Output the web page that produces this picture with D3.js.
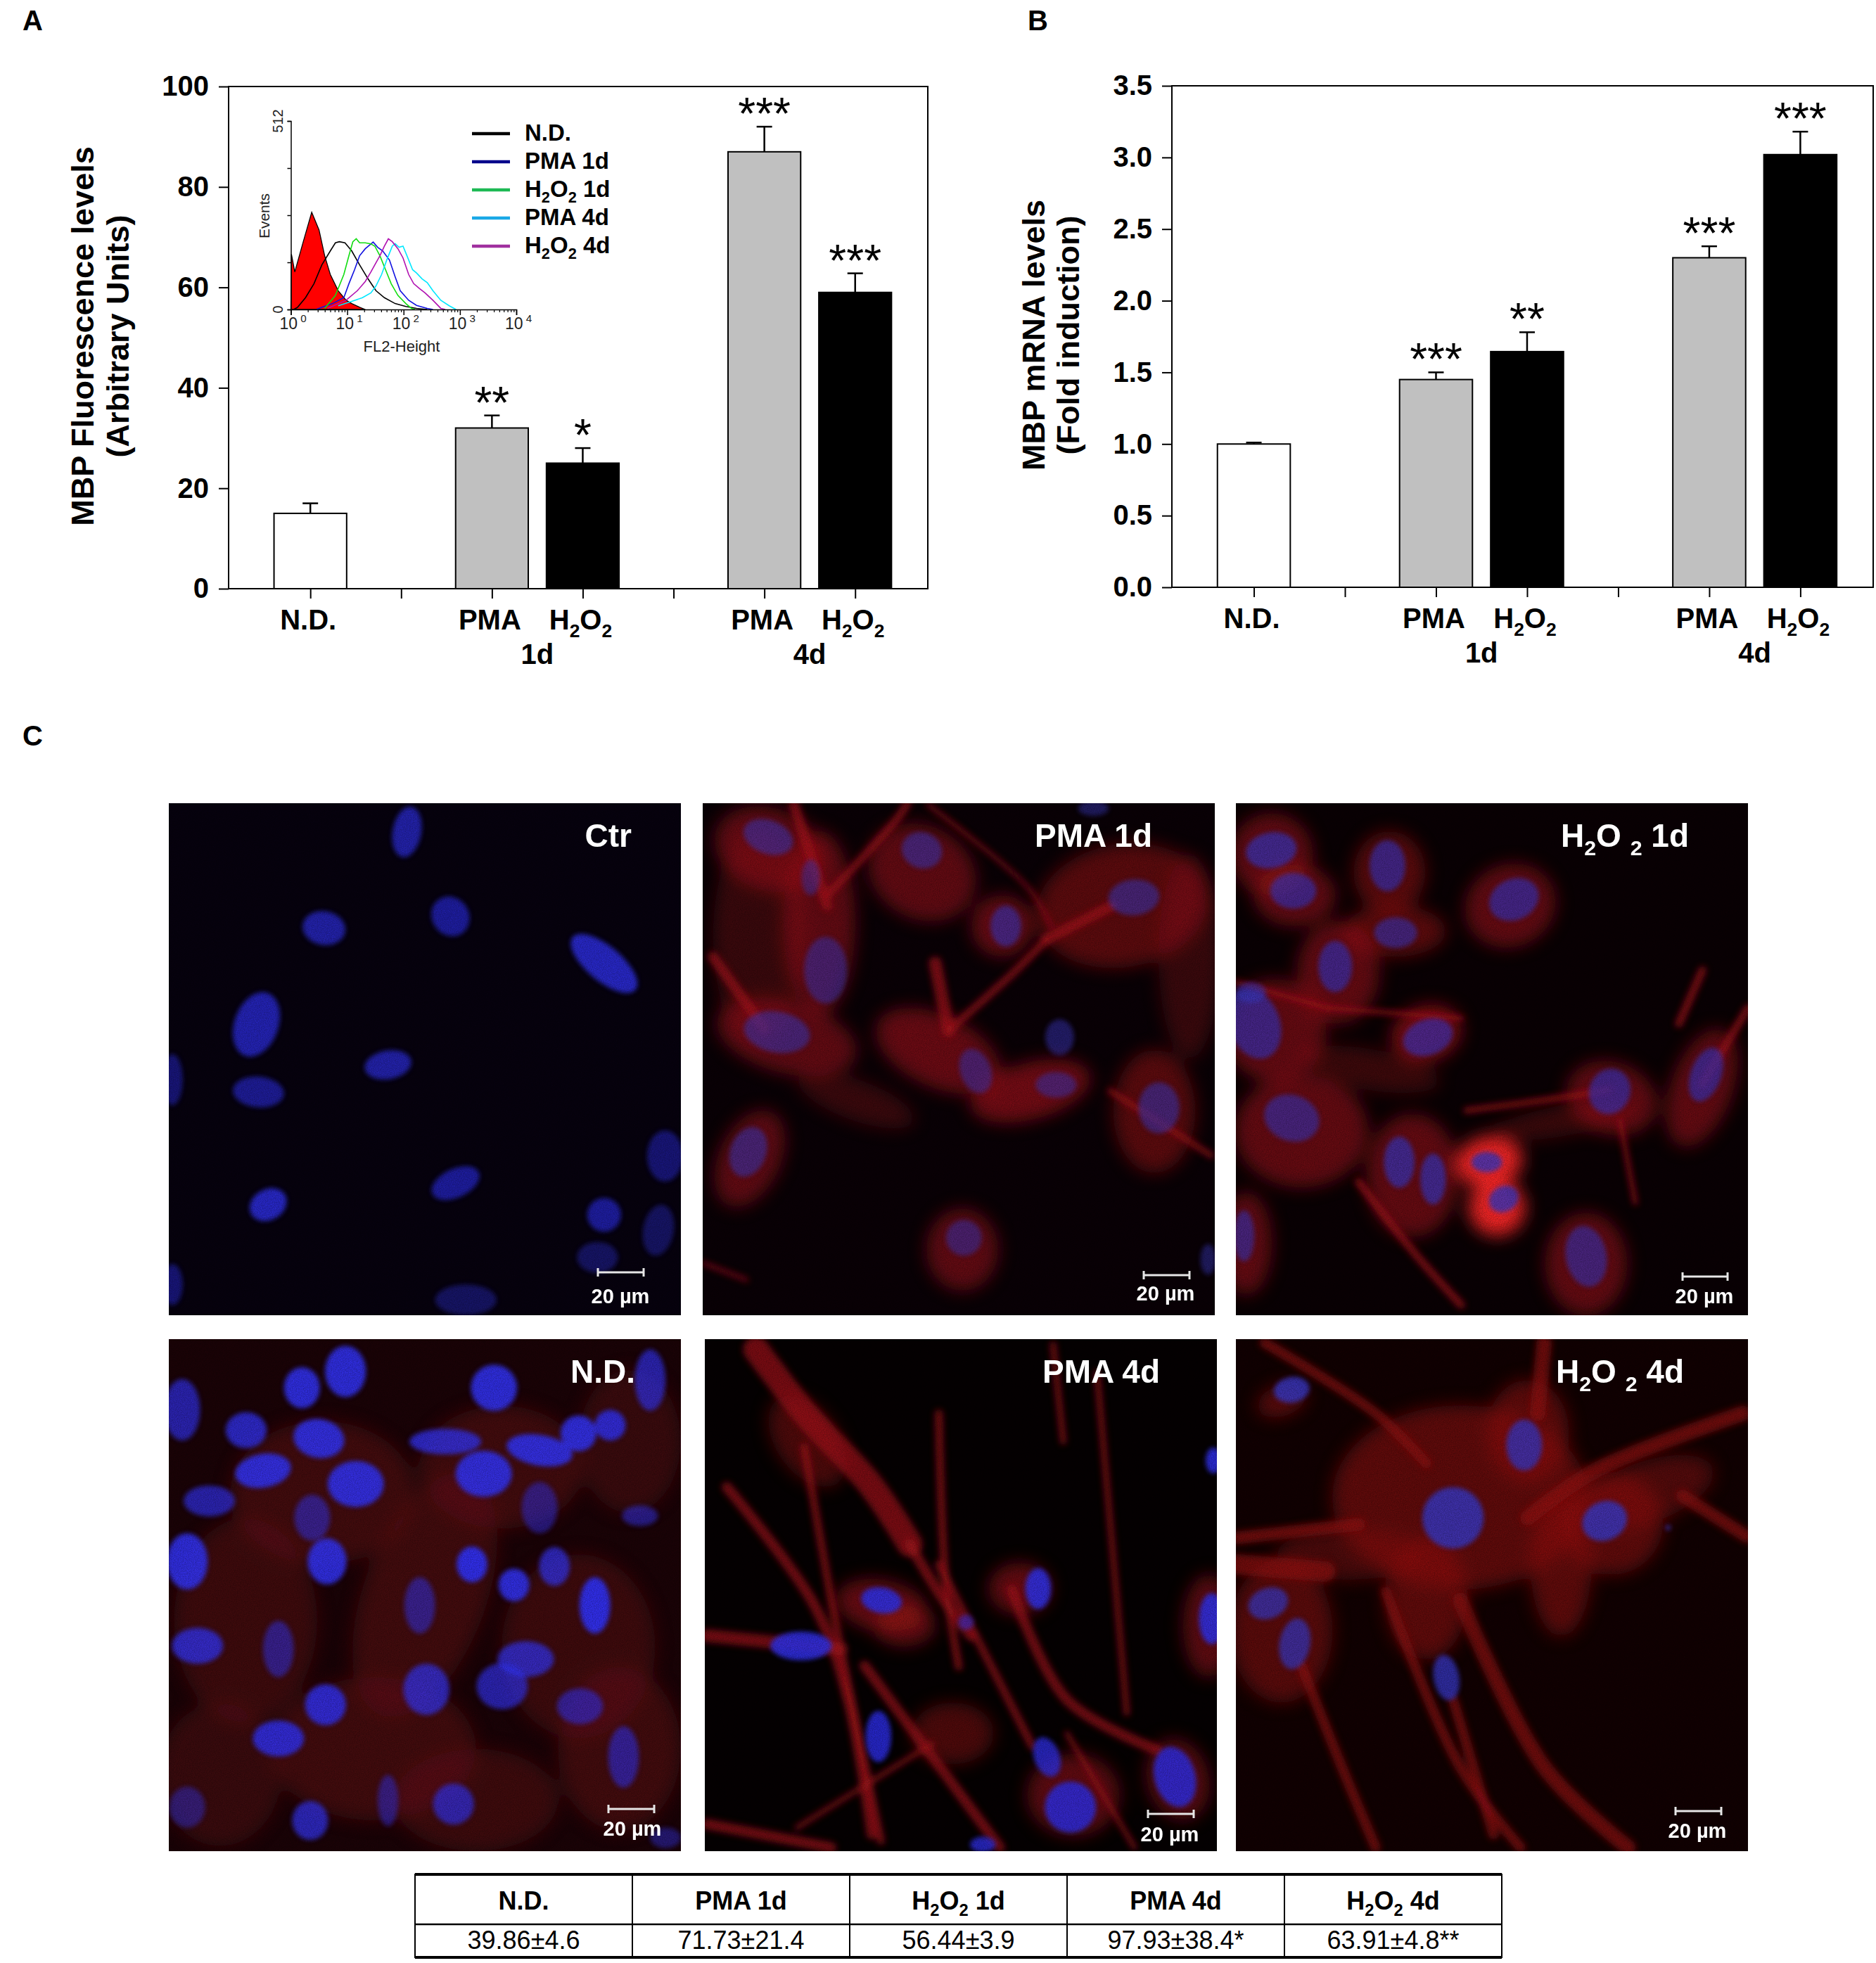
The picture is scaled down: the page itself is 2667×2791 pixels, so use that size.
<!DOCTYPE html>
<html>
<head>
<meta charset="utf-8">
<script src="https://cdn.jsdelivr.net/npm/d3@7"></script>
<style>
  body { margin: 0; background: #fff; }
</style>
</head>
<body>
<script>
// ---------- data ----------
const slots = [0, 2, 3, 5, 6];                 // x positions of the five bars (7 tick slots)
const barFills = ["#ffffff", "#c0c0c0", "#000000", "#c0c0c0", "#000000"];
const catLabels = [[["N.D.", 0]], [["PMA", 0]], [["H", 0], ["2", 1], ["O", 0], ["2", 1]], [["PMA", 0]], [["H", 0], ["2", 1], ["O", 0], ["2", 1]]];
const dayLabels = ["1d", "4d"];
const daySlots = [2.5, 5.5];

const fluoMean = [15, 32, 25, 87, 59];
const fluoErr = [2, 2.5, 3, 5, 3.8];
const fluoStars = ["", "**", "*", "***", "***"];
const fluoTicks = [0, 20, 40, 60, 80, 100];

const mrnaMean = [1.0, 1.45, 1.645, 2.30, 3.02];
const mrnaErr = [0.01, 0.05, 0.135, 0.08, 0.16];
const mrnaStars = ["", "***", "**", "***", "***"];
const mrnaTicks = [0, 0.5, 1.0, 1.5, 2.0, 2.5, 3.0, 3.5];

// flow cytometry histograms: [log10(FL2-Height), events]
const histIso = [[0, 0], [0.01, 150], [0.07, 102], [0.22, 184], [0.37, 264], [0.5, 216], [0.6, 146], [0.7, 95], [0.84, 51], [0.98, 25], [1.08, 16], [1.22, 6], [1.32, 0]];
const histND = [[0.05, 0], [0.12, 6], [0.26, 32], [0.41, 70], [0.55, 121], [0.7, 159], [0.79, 181], [0.86, 184], [0.96, 181], [1.08, 159], [1.22, 121], [1.37, 83], [1.51, 51], [1.66, 32], [1.85, 16], [2.04, 8], [2.23, 3], [2.42, 0]];
const histPMA1 = [[0.46, 1], [0.74, 16], [0.94, 32], [1.03, 70], [1.13, 108], [1.22, 146], [1.32, 165], [1.42, 178], [1.46, 183], [1.54, 169], [1.63, 159], [1.75, 134], [1.85, 89], [1.94, 51], [2.09, 25], [2.23, 11], [2.42, 3], [2.52, 0]];
const histH1 = [[0.6, 3], [0.79, 38], [0.94, 95], [1.03, 146], [1.1, 184], [1.16, 192], [1.22, 181], [1.32, 181], [1.42, 178], [1.49, 172], [1.58, 146], [1.68, 108], [1.78, 70], [1.9, 38], [2.04, 16], [2.14, 3], [2.2, 0]];
const histPMA4 = [[0.84, 10], [1.08, 22], [1.27, 32], [1.42, 45], [1.51, 64], [1.61, 95], [1.7, 134], [1.8, 172], [1.85, 179], [1.92, 169], [1.99, 172], [2.06, 146], [2.16, 108], [2.23, 99], [2.33, 83], [2.42, 73], [2.52, 51], [2.66, 25], [2.81, 10], [2.93, 0]];
const histH4 = [[0.65, 3], [0.98, 25], [1.18, 51], [1.32, 76], [1.42, 102], [1.51, 127], [1.58, 146], [1.66, 172], [1.73, 192], [1.8, 184], [1.9, 165], [1.99, 140], [2.09, 95], [2.18, 70], [2.28, 57], [2.38, 45], [2.52, 25], [2.66, 3], [2.74, 0]];
const histSeries = [histND, histPMA1, histH1, histPMA4, histH4];
const histColors = ["#000000", "#1010e0", "#10dd10", "#00e8ff", "#b010b0"];
const legendColors = ["#000000", "#00008b", "#1db954", "#1aa8e6", "#a0309f"];
const legendLabels = [[["N.D.", 0]], [["PMA 1d", 0]], [["H", 0], ["2", 1], ["O", 0], ["2", 1], [" 1d", 0]], [["PMA 4d", 0]], [["H", 0], ["2", 1], ["O", 0], ["2", 1], [" 4d", 0]]];
const histYTicks = [0, 128, 256, 384, 512];
const histDecades = [0, 1, 2, 3, 4];

// table under panel C
const tableHeads = [[["N.D.", 0]], [["PMA 1d", 0]], [["H", 0], ["2", 1], ["O", 0], ["2", 1], [" 1d", 0]], [["PMA 4d", 0]], [["H", 0], ["2", 1], ["O", 0], ["2", 1], [" 4d", 0]]];
const tableValues = ["39.86±4.6", "71.73±21.4", "56.44±3.9", "97.93±38.4*", "63.91±4.8**"];

// micrographs: nuclei / cytoplasm as [u, v, rx, ry, rotation, opacity] in % of the frame
const ctrNuclei = [[46.5, 5.6, 2.8, 5, 10, 0.8], [30.3, 24.4, 4.2, 3.3, 10, 0.8], [55, 22.1, 3.6, 4, -35, 0.75], [85, 31.3, 8, 3.4, 40, 0.95], [17.1, 43.2, 4.3, 6.5, 20, 0.85], [42.8, 51.1, 4.6, 2.8, -10, 0.8], [17.5, 56.4, 5, 3, 5, 0.7], [56, 74.2, 5, 2.8, -25, 0.75], [19.4, 78.4, 3.8, 3, -30, 0.95], [96.9, 68.9, 3.5, 5, 0, 0.55], [85, 80.4, 3.3, 3.3, 0, 0.75], [95.6, 83.4, 3, 5, 10, 0.45], [83.7, 88.7, 4, 3, 0, 0.45], [58, 97, 6, 3, 0, 0.45], [0.7, 54, 2, 5, 0, 0.55], [0.7, 94, 2, 4, 0, 0.55]];
const ctrCyto = [];
const ctrProc = [];

const pma1Nuclei = [[12.8, 6.6, 5, 3.3, 20, 0.6], [21.1, 14.5, 1.8, 3.5, 0, 0.5], [42.8, 9.2, 4, 3.5, 20, 0.6], [84.2, 18.4, 5, 3.5, -5, 0.6], [59.2, 24, 3, 4, 0, 0.65], [24, 32.6, 4.2, 6.5, 0, 0.55], [14.5, 44.7, 6.5, 4, 10, 0.6], [53.3, 52.3, 3, 4.5, -20, 0.55], [69.7, 45.7, 2.8, 3.5, 0, 0.55], [69, 55, 4, 2.5, 0, 0.55], [89.1, 59.5, 4, 5, 0, 0.6], [8.9, 68.1, 3.5, 5, 20, 0.6], [51, 84.9, 3.5, 3.5, 0, 0.55], [76.3, 1, 3, 1.5, 0, 0.5], [98.7, 89.1, 1.5, 3, 0, 0.5]];
const pma1Cyto = [[13, 9, 11, 8, 20, 0.55], [22.8, 23.4, 7, 18, 0, 0.55], [42.8, 13.5, 11, 9, 30, 0.55], [82, 20, 17, 12, -10, 0.5], [58.5, 24, 6, 6, 0, 0.6], [11, 26, 9, 22, 0, 0.3], [16.4, 45.7, 14, 7, 15, 0.55], [46, 48.4, 13, 7, 25, 0.6], [64, 56.2, 12, 5.5, -15, 0.65], [88.2, 60.2, 8, 12, 0, 0.5], [9.2, 69.4, 6, 10, 25, 0.55], [50.7, 87.2, 7, 8, 0, 0.55], [30, 58, 12, 4, 20, 0.3], [95, 30, 6, 20, 0, 0.3]];
const pma1Proc = [
  { w: 2.5, pts: [[45.4, 31.2], [48, 44.4]] }, { w: 1.5, pts: [[48, 44.4], [61.2, 32.6], [67.1, 26.6]] },
  { w: 2, pts: [[67.1, 26.6], [80, 20]] }, { w: 2, pts: [[17.8, 0.3], [24.3, 20]] },
  { w: 1.5, pts: [[24.3, 18], [38, 3], [40, 0]] }, { w: 0.8, pts: [[44, 0.3], [63.8, 16.8], [68, 24]] },
  { w: 1.2, pts: [[79.6, 56.2], [99.3, 68.8]] }, { w: 0.8, pts: [[0, 89.8], [8.6, 93.1]] }, { w: 2, pts: [[2, 30], [12, 44]] }];

const h1Nuclei = [[6.9, 9.2, 5, 3.5, -10, 0.7], [11.2, 17.1, 4.5, 3.5, 0, 0.65], [29.6, 12.2, 3.5, 5, 0, 0.65], [54.3, 18.8, 5, 4, -25, 0.65], [31.2, 25.3, 4.2, 3, 0, 0.6], [19.4, 31.9, 3.3, 5, 0, 0.65], [3.6, 43.1, 5, 7, -20, 0.65], [37.5, 45.7, 5, 3.5, -20, 0.65], [10.9, 61.5, 5.5, 4.5, 20, 0.6], [31.9, 70.1, 3, 5, 0, 0.7], [38.5, 73.4, 2.5, 5, 0, 0.7], [49, 70.1, 3, 2, 0, 0.8], [52.3, 77.3, 3, 2.5, -30, 0.8], [73, 56.3, 4, 4.5, 20, 0.65], [91.8, 53, 3, 5.5, 20, 0.65], [68.4, 88.5, 4, 6, -10, 0.6], [1.6, 84.5, 2, 5, 0, 0.6], [2.9, 37, 3, 2, 0, 0.6]];
const h1Cyto = [[7, 10, 8, 8, 0, 0.55], [11.5, 18, 8, 6, 0, 0.55], [30, 13.5, 7, 8, 0, 0.5], [53.6, 20, 9, 8, -25, 0.55], [31, 25, 10, 5, 0, 0.5], [20, 33, 8, 10, 0, 0.55], [7.6, 44.4, 10, 10, 0, 0.55], [37.2, 45, 7, 5.5, -20, 0.7], [12.8, 64, 13, 11, 0, 0.55], [34.5, 72.7, 9, 12, 0, 0.55], [73.4, 57.6, 9, 7, 20, 0.55], [91, 55.6, 6, 12, 20, 0.55], [68.4, 90, 8, 10, 0, 0.55], [2, 86, 5, 10, 0, 0.55], [26, 52, 14, 4, 10, 0.3], [64, 62, 14, 3, -10, 0.3], [49.5, 70, 6.5, 5, -10, 1], [51, 79, 5.5, 5.5, -20, 1], [49.5, 70, 6.5, 5, -10, 1], [51, 79, 5.5, 5.5, -20, 1]];
const h1Proc = [
  { w: 1.5, pts: [[86.5, 43.1], [91.1, 32.6]] }, { w: 1.2, pts: [[73, 56], [60, 58], [45, 60]] },
  { w: 1, pts: [[75, 62], [78, 78]] }, { w: 1.5, pts: [[24, 74], [35, 88], [44, 98]] },
  { w: 1, pts: [[18, 40], [44, 42]] }, { w: 1.5, pts: [[91, 55], [100, 40]] }, { w: 1, pts: [[0, 35], [18, 40]] }];

const ndNuclei = [[26, 9.5, 3.5, 4, 0, 0.9], [34.5, 6.3, 4, 5, 0, 0.9], [63.5, 9.5, 4.5, 4.5, 30, 0.9], [94, 8, 3, 6, 0, 0.7], [2.6, 13.8, 3.5, 6, 0, 0.7], [15.1, 17.8, 4, 3.5, 0, 0.8], [29.3, 19.4, 5, 3.8, 10, 0.9], [18.4, 25.7, 5.5, 3.3, -10, 0.9], [54, 20, 7, 2.5, 0, 0.8], [72.4, 21.7, 6.5, 3, 10, 0.9], [80, 18.4, 3.5, 3.5, 0, 0.9], [86.2, 16.8, 3, 3, 0, 0.85], [61.5, 26.3, 5.5, 4.5, 0, 0.9], [36.5, 28.3, 5.5, 4.5, 0, 0.9], [7.9, 31.6, 5, 3, 0, 0.7], [28, 34.9, 3.5, 4.5, 0, 0.55], [72.4, 32.9, 3.5, 5, 0, 0.5], [92, 34.5, 3.5, 2, 0, 0.55], [3.6, 43.4, 4, 5.5, 0, 0.9], [30.9, 43.4, 3.8, 4.5, 0, 0.9], [59.2, 44, 3, 3.5, 0, 0.95], [75.3, 44.4, 3, 3.8, 0, 0.75], [67.4, 48, 3, 3.2, 0, 0.9], [83.2, 52, 3, 5.5, 0, 0.95], [49, 52, 3, 5.5, 0, 0.55], [5.6, 59.9, 5, 3.5, 0, 0.8], [21.4, 60.5, 3, 5.5, 0, 0.55], [69.7, 62.5, 5.5, 3.5, 0, 0.75], [65.1, 67.8, 5, 4.5, 0, 0.7], [50.3, 68.4, 4.5, 5, 0, 0.75], [30.6, 71.4, 4, 4, 0, 0.85], [21.4, 78, 5, 3.5, 0, 0.85], [80.3, 71.7, 4.5, 3.5, 0, 0.6], [88.8, 81.6, 3, 6, 0, 0.6], [42.8, 90.1, 2, 5, 0, 0.5], [55.6, 90.8, 4, 4, 0, 0.7], [27.6, 94, 3.5, 3.8, 0, 0.75], [3.6, 91.4, 3.5, 4, 0, 0.45], [97, 97.4, 3, 2, 0, 0.45]];
const ndCyto = [[30, 30, 18, 14, 0, 0.5], [65, 25, 16, 12, 0, 0.5], [15, 55, 14, 20, 0, 0.45], [50, 50, 12, 25, 20, 0.5], [80, 60, 15, 18, 0, 0.45], [40, 80, 20, 14, 0, 0.5], [88, 80, 12, 16, 0, 0.5], [10, 85, 12, 14, 0, 0.4], [60, 90, 16, 10, 0, 0.45], [90, 20, 10, 14, 0, 0.4]];
const ndProc = [];

const pma4Nuclei = [[34.5, 51, 4, 2.5, 10, 0.9], [65.1, 48.7, 2.5, 4, 0, 0.9], [18.8, 59.9, 6, 2.8, 0, 0.9], [33.9, 77.6, 2.5, 5, 0, 0.85], [51, 55.3, 1.5, 1.5, 0, 0.6], [66.8, 81.6, 2.5, 4, -20, 0.8], [71.4, 91.4, 5, 5, 0, 0.85], [91.8, 85.5, 4, 6, -15, 0.85], [99, 54.6, 2.5, 5, 0, 0.9], [99.3, 23.7, 1.5, 2.5, 0, 0.9], [54.3, 98.7, 2.5, 1.5, 0, 0.8]];
const pma4Cyto = [[34.5, 52, 9, 5, 10, 0.6], [61.5, 48.7, 6, 5, 0, 0.6], [39, 56, 6, 4, 0, 0.55], [72, 89, 9, 8, 0, 0.55], [92.4, 86, 6, 8, -15, 0.55], [98.4, 56, 5, 10, 0, 0.55], [48.4, 77, 8, 6, 0, 0.45], [20, 20, 6, 10, -35, 0.45]];
const pma4Proc = [
  { w: 5, pts: [[10, 2], [20, 15], [32, 28], [40, 40]] }, { w: 2, pts: [[40, 40], [46, 50], [52, 58]] },
  { w: 1.5, pts: [[19.4, 21], [25.8, 56.6], [34.4, 98]] }, { w: 1.5, pts: [[45.7, 14.5], [47, 47], [49.6, 64]] },
  { w: 1.2, pts: [[76.6, 6.6], [81, 57], [82.4, 73]] }, { w: 2, pts: [[4.3, 28.9], [21.4, 52], [28, 70.4], [32.6, 96.7]] },
  { w: 2.5, pts: [[0.3, 57.9], [26.6, 60.5]] }, { w: 2, pts: [[31.2, 63.8], [57.6, 99.3]] },
  { w: 1.5, pts: [[45.7, 44], [64, 79.6]] }, { w: 2, pts: [[60, 49], [70.7, 70.4], [88.5, 80.3]] },
  { w: 2, pts: [[0.3, 94.7], [24.7, 99.3]] }, { w: 1, pts: [[70.7, 77], [83.9, 99.3]] },
  { w: 1, pts: [[44.4, 79], [18, 95.4]] }, { w: 1.2, pts: [[68, 1], [70, 20]] }];

const h4Nuclei = [[10.9, 9.9, 3.5, 2.5, -10, 0.85], [56.3, 20.7, 3.5, 5, 0, 0.8], [42.4, 34.9, 6, 6, 0, 0.85], [72, 35.5, 4.5, 3.8, -25, 0.85], [6.3, 51.6, 4, 3, -20, 0.75], [11.5, 59.5, 3, 5, 10, 0.75], [41.1, 66.1, 2.5, 4.5, -10, 0.8], [84.4, 36.8, 0.5, 0.5, 0, 0.8]];
const h4Cyto = [[43.8, 30.9, 25, 18, 0, 0.6], [57, 18, 8, 10, 0, 0.6], [73.4, 36, 10, 10, 0, 0.6], [63.5, 44, 6, 14, 0, 0.6], [8.9, 57, 10, 14, 0, 0.55], [37.2, 50.6, 8, 12, 0, 0.6], [9, 12, 5, 3, -20, 0.6], [80, 30, 14, 6, -20, 0.5], [22, 42, 14, 5, 0, 0.45]];
const h4Proc = [
  { w: 3, pts: [[99, 14.5], [70.1, 25.7], [57, 34.9]] }, { w: 2.5, pts: [[87.2, 30.6], [99.7, 38.5]] },
  { w: 2.5, pts: [[0.3, 38.8], [24, 36.2]] }, { w: 2, pts: [[5.6, 0.7], [27.3, 14.5], [37.2, 24.3]] },
  { w: 3, pts: [[60.2, 0.7], [58.9, 14.5]] }, { w: 2, pts: [[12.8, 63.8], [20.7, 83.6], [27.3, 99.3]] },
  { w: 2, pts: [[29.3, 49.3], [43.8, 83.6], [55.6, 99.3]] }, { w: 2, pts: [[42.4, 70.4], [50.3, 96.7]] },
  { w: 3, pts: [[43.8, 51], [60.2, 83.6], [76.6, 99.3]] }, { w: 4, pts: [[0.3, 44], [17.4, 45.4]] }];

const panelLabels = [[["Ctr", 0]], [["PMA 1d", 0]], [["H", 0], ["2", 1], ["O ", 0], ["2", 1], [" 1d", 0]],
                     [["N.D.", 0]], [["PMA 4d", 0]], [["H", 0], ["2", 1], ["O ", 0], ["2", 1], [" 4d", 0]]];
const scaleText = "20 µm";

// ---------- layout ----------
const W = 2667, H = 2791;
const FONT = "'Liberation Sans', Arial, Helvetica, sans-serif";

const svg = d3.select("body").append("svg")
  .attr("width", W).attr("height", H)
  .attr("viewBox", `0 0 ${W} ${H}`)
  .style("font-family", FONT);
const defs = svg.append("defs");

// text with sub/superscript parts; shift > 0 lowers the small parts
function addParts(text, parts, size, shift) {
  let off = 0;
  parts.forEach(([t, small]) => {
    const target = small ? shift : 0;
    text.append("tspan").text(t)
      .attr("font-size", small ? size * 0.66 : size)
      .attr("dy", target - off);
    off = target;
  });
  return text;
}

function letter(t, x, y) {
  svg.append("text").attr("x", x).attr("y", y).text(t)
    .attr("font-size", 40).attr("font-weight", "bold");
}

// ---------- bar charts A and B ----------
function barChart(frame, domain, ticks, fmt, means, errs, stars, title) {
  const x = d3.scaleLinear().domain([-0.9, 6.8]).range([frame.x0, frame.x1]);
  const y = d3.scaleLinear().domain(domain).range([frame.y1, frame.y0]);
  const bw = (x(1) - x(0)) * 0.8;
  const g = svg.append("g");

  g.selectAll("rect.bar").data(means).join("rect")
    .attr("class", "bar")
    .attr("x", (d, i) => x(slots[i]) - bw / 2)
    .attr("y", d => y(d))
    .attr("width", bw)
    .attr("height", d => y(domain[0]) - y(d))
    .attr("fill", (d, i) => barFills[i])
    .attr("stroke", "#000").attr("stroke-width", 2);

  const eb = g.selectAll("g.err").data(means).join("g").attr("class", "err")
    .attr("stroke", "#000").attr("stroke-width", 2.5);
  eb.append("line")
    .attr("x1", (d, i) => x(slots[i])).attr("x2", (d, i) => x(slots[i]))
    .attr("y1", d => y(d)).attr("y2", (d, i) => y(d + errs[i]));
  eb.append("line")
    .attr("x1", (d, i) => x(slots[i]) - 11).attr("x2", (d, i) => x(slots[i]) + 11)
    .attr("y1", (d, i) => y(d + errs[i])).attr("y2", (d, i) => y(d + errs[i]));

  g.selectAll("text.star").data(means).join("text")
    .attr("class", "star")
    .attr("x", (d, i) => x(slots[i]))
    .attr("y", (d, i) => y(d + errs[i]) + 4)
    .attr("text-anchor", "middle")
    .attr("font-size", 64)
    .text((d, i) => stars[i]);

  g.append("rect")
    .attr("x", frame.x0).attr("y", frame.y0)
    .attr("width", frame.x1 - frame.x0).attr("height", frame.y1 - frame.y0)
    .attr("fill", "none").attr("stroke", "#000").attr("stroke-width", 2);

  const ya = g.append("g").attr("transform", `translate(${frame.x0},0)`)
    .call(d3.axisLeft(y).tickValues(ticks).tickSize(14).tickPadding(14).tickFormat(fmt));
  ya.select(".domain").remove();
  ya.selectAll("line").attr("stroke-width", 2);
  ya.selectAll("text").attr("font-size", 40).attr("font-weight", "bold").attr("font-family", FONT);

  const xa = g.append("g").attr("transform", `translate(0,${frame.y1})`)
    .call(d3.axisBottom(x).tickValues(d3.range(7)).tickSize(14).tickFormat(""));
  xa.select(".domain").remove();
  xa.selectAll("line").attr("stroke-width", 2);

  catLabels.forEach((parts, i) => {
    const t = g.append("text").attr("x", x(slots[i]) - 3).attr("y", frame.y1 + 58)
      .attr("text-anchor", "middle").attr("font-weight", "bold");
    addParts(t, parts, 40, 11);
  });
  dayLabels.forEach((d, i) => {
    g.append("text").attr("x", x(daySlots[i])).attr("y", frame.y1 + 107)
      .attr("text-anchor", "middle").attr("font-weight", "bold").attr("font-size", 40).text(d);
  });

  const cy = (frame.y0 + frame.y1) / 2 - 2;
  title.lines.forEach((s, i) => {
    g.append("text")
      .attr("transform", `translate(${title.x[i]},${cy}) rotate(-90)`)
      .attr("text-anchor", "middle").attr("font-weight", "bold").attr("font-size", 45)
      .text(s);
  });
  return { x, y };
}

letter("A", 32, 43);
letter("B", 1461, 43);
letter("C", 32, 1060);

barChart({ x0: 325, x1: 1319, y0: 123, y1: 837 }, [0, 100], fluoTicks, d3.format("d"),
  fluoMean, fluoErr, fluoStars,
  { lines: ["MBP Fluorescence levels", "(Arbitrary Units)"], x: [133, 183] });

barChart({ x0: 1666, x1: 2663, y0: 122, y1: 835 }, [0, 3.5], mrnaTicks, d3.format(".1f"),
  mrnaMean, mrnaErr, mrnaStars,
  { lines: ["MBP mRNA levels", "(Fold induction)"], x: [1485, 1534] });

// ---------- flow cytometry inset ----------
const hx = d3.scaleLinear().domain([0, 4]).range([413.5, 734]);
const hy = d3.scaleLinear().domain([0, 512]).range([440, 172]);
const inset = svg.append("g");

inset.append("path").datum(histIso)
  .attr("d", d3.area().x(d => hx(d[0])).y0(hy(0)).y1(d => hy(d[1])))
  .attr("fill", "#ff0000").attr("stroke", "#000").attr("stroke-width", 1.3);

inset.selectAll("path.hist").data(histSeries).join("path")
  .attr("class", "hist")
  .attr("d", d3.line().x(d => hx(d[0])).y(d => hy(d[1])))
  .attr("fill", "none")
  .attr("stroke", (d, i) => histColors[i])
  .attr("stroke-width", 1.6);

const hxa = inset.append("g").attr("transform", `translate(0,${hy(0)})`)
  .call(d3.axisBottom(hx).tickValues(histDecades).tickSize(8).tickFormat(""));
hxa.selectAll("line, path").attr("stroke-width", 1.5);
const minor = d3.range(0, 4).flatMap(d => d3.range(2, 10).map(k => d + Math.log10(k)));
inset.append("g").attr("transform", `translate(0,${hy(0)})`)
  .call(d3.axisBottom(hx).tickValues(minor).tickSize(4).tickFormat(""))
  .call(s => s.select(".domain").remove())
  .selectAll("line").attr("stroke-width", 1.2);

const hya = inset.append("g").attr("transform", `translate(${hx(0)},0)`)
  .call(d3.axisLeft(hy).tickValues(histYTicks).tickSize(5).tickFormat(""));
hya.selectAll("line, path").attr("stroke-width", 1.5);

histDecades.forEach(d => {
  const t = inset.append("text").attr("x", hx(d) + 3).attr("y", 468)
    .attr("text-anchor", "middle").attr("fill", "#222");
  addParts(t, [["10", 0], [" " + d, 1]], 23, -10);
});
[[0, "0"], [512, "512"]].forEach(([v, s]) => {
  inset.append("text").attr("transform", `translate(402,${hy(v)}) rotate(-90)`)
    .attr("text-anchor", "middle").attr("font-size", 20).attr("fill", "#222").text(s);
});
inset.append("text").attr("transform", `translate(383,307) rotate(-90)`)
  .attr("text-anchor", "middle").attr("font-size", 21).attr("fill", "#222").text("Events");
inset.append("text").attr("x", 571).attr("y", 500)
  .attr("text-anchor", "middle").attr("font-size", 22).attr("fill", "#222").text("FL2-Height");

legendLabels.forEach((parts, i) => {
  const yy = 200 + i * 40;
  inset.append("line").attr("x1", 671).attr("x2", 725).attr("y1", yy - 10).attr("y2", yy - 10)
    .attr("stroke", legendColors[i]).attr("stroke-width", 4.5);
  const t = inset.append("text").attr("x", 746).attr("y", yy).attr("font-weight", "bold");
  addParts(t, parts, 33, 8);
});

// ---------- micrographs (panel C) ----------
const PS = 728;
const panels = [
  { id: "ctr", x: 240, y: 1142, bg: "#07020f", red: "#b3141c", blue: "#2a2ad8", nuc: ctrNuclei, cyto: ctrCyto, proc: ctrProc, lx: 658, bar: [610, 675, 667], tx: 642, ty: 711 },
  { id: "pma1", x: 999, y: 1142, bg: "#0a0006", red: "#b3141c", blue: "#3a36c0", nuc: pma1Nuclei, cyto: pma1Cyto, proc: pma1Proc, lx: 639, bar: [627, 692, 671], tx: 658, ty: 707 },
  { id: "h1", x: 1757, y: 1142, bg: "#0a0004", red: "#b8161c", blue: "#3838cc", nuc: h1Nuclei, cyto: h1Cyto, proc: h1Proc, lx: 644, bar: [635, 699, 673], tx: 666, ty: 711 },
  { id: "nd", x: 240, y: 1904, bg: "#1c0307", red: "#6e1218", blue: "#3434ff", nuc: ndNuclei, cyto: ndCyto, proc: ndProc, lx: 663, bar: [625, 690, 668], tx: 659, ty: 706 },
  { id: "pma4", x: 1002, y: 1904, bg: "#050002", red: "#b0161c", blue: "#3030f0", nuc: pma4Nuclei, cyto: pma4Cyto, proc: pma4Proc, lx: 647, bar: [630, 695, 675], tx: 661, ty: 714 },
  { id: "h4", x: 1757, y: 1904, bg: "#120102", red: "#9a1014", blue: "#3a3acc", nuc: h4Nuclei, cyto: h4Cyto, proc: h4Proc, lx: 637, bar: [625, 690, 671], tx: 656, ty: 709 }
];

[["blurBig", 12], ["blurMid", 5], ["blurSmall", 3]].forEach(([id, sd]) => {
  defs.append("filter").attr("id", id).attr("x", "-20%").attr("y", "-20%").attr("width", "140%").attr("height", "140%")
    .append("feGaussianBlur").attr("stdDeviation", sd);
});
const grain = defs.append("filter").attr("id", "grain").attr("x", 0).attr("y", 0).attr("width", 1).attr("height", 1);
grain.append("feTurbulence").attr("type", "fractalNoise").attr("baseFrequency", 0.8).attr("numOctaves", 2).attr("seed", 3);
grain.append("feColorMatrix").attr("type", "matrix")
  .attr("values", "0 0 0 0 0  0 0 0 0 0  0 0 0 0 0  -1.4 0 0 0 1.1");

const s = d3.scaleLinear().domain([0, 100]).range([0, PS]);
const procLine = d3.line().x(d => s(d[0])).y(d => s(d[1])).curve(d3.curveCatmullRom);
const ellipseT = d => `translate(${s(d[0])},${s(d[1])}) rotate(${d[4]})`;

panels.forEach((p, k) => {
  defs.append("clipPath").attr("id", "clip-" + p.id)
    .append("rect").attr("width", PS).attr("height", PS);
  const g = svg.append("g").attr("transform", `translate(${p.x},${p.y})`);
  const c = g.append("g").attr("clip-path", `url(#clip-${p.id})`);
  c.append("rect").attr("width", PS).attr("height", PS).attr("fill", p.bg);

  c.append("g").attr("filter", "url(#blurBig)")
    .selectAll("ellipse").data(p.cyto).join("ellipse")
    .attr("transform", ellipseT)
    .attr("rx", d => s(d[2])).attr("ry", d => s(d[3]))
    .attr("fill", d => d[5] >= 1 ? "#ff2626" : p.red)
    .attr("fill-opacity", d => Math.min(d[5], 0.9));

  c.append("g").attr("filter", "url(#blurMid)")
    .selectAll("path").data(p.proc).join("path")
    .attr("d", d => procLine(d.pts))
    .attr("fill", "none").attr("stroke", p.red)
    .attr("stroke-width", d => s(d.w))
    .attr("stroke-linecap", "round").attr("stroke-opacity", 0.7);

  c.append("g").attr("filter", "url(#blurSmall)")
    .selectAll("ellipse").data(p.nuc).join("ellipse")
    .attr("transform", ellipseT)
    .attr("rx", d => s(d[2])).attr("ry", d => s(d[3]))
    .attr("fill", p.blue).attr("fill-opacity", d => d[5]);

  c.append("rect").attr("width", PS).attr("height", PS)
    .attr("filter", "url(#grain)").attr("opacity", 0.35);

  const t = g.append("text").attr("x", p.lx).attr("y", 62)
    .attr("text-anchor", "end").attr("fill", "#fff").attr("font-weight", "bold");
  addParts(t, panelLabels[k], 46, 12);

  g.append("path")
    .attr("d", `M${p.bar[0]},${p.bar[2] - 6}V${p.bar[2] + 6}M${p.bar[0]},${p.bar[2]}H${p.bar[1]}M${p.bar[1]},${p.bar[2] - 6}V${p.bar[2] + 6}`)
    .attr("stroke", "#e6e6e6").attr("stroke-width", 3).attr("fill", "none");
  g.append("text").attr("x", p.tx).attr("y", p.ty)
    .attr("text-anchor", "middle").attr("fill", "#fff").attr("font-weight", "bold")
    .attr("font-size", 29).text(scaleText);
});

// ---------- table ----------
const tx = d3.scaleLinear().domain([0, 5]).range([590, 2135]);
const rowY = [2665, 2736, 2783];
const tab = svg.append("g");
tab.append("rect").attr("x", tx(0)).attr("y", rowY[0]).attr("width", tx(5) - tx(0)).attr("height", rowY[2] - rowY[0])
  .attr("fill", "none").attr("stroke", "#000").attr("stroke-width", 2);
[rowY[0], rowY[2]].forEach(yy => tab.append("line").attr("x1", tx(0)).attr("x2", tx(5)).attr("y1", yy).attr("y2", yy)
  .attr("stroke", "#000").attr("stroke-width", 4));
tab.append("line").attr("x1", tx(0)).attr("x2", tx(5)).attr("y1", rowY[1]).attr("y2", rowY[1])
  .attr("stroke", "#000").attr("stroke-width", 2.5);
tab.selectAll("line.col").data(d3.range(1, 5)).join("line").attr("class", "col")
  .attr("x1", d => tx(d)).attr("x2", d => tx(d)).attr("y1", rowY[0]).attr("y2", rowY[2])
  .attr("stroke", "#000").attr("stroke-width", 2);
tableHeads.forEach((parts, i) => {
  const t = tab.append("text").attr("x", tx(i + 0.5)).attr("y", 2715)
    .attr("text-anchor", "middle").attr("font-weight", "bold");
  addParts(t, parts, 36, 9);
});
tab.selectAll("text.val").data(tableValues).join("text").attr("class", "val")
  .attr("x", (d, i) => tx(i + 0.5)).attr("y", 2771)
  .attr("text-anchor", "middle").attr("font-size", 36).text(d => d);
</script>
</body>
</html>
